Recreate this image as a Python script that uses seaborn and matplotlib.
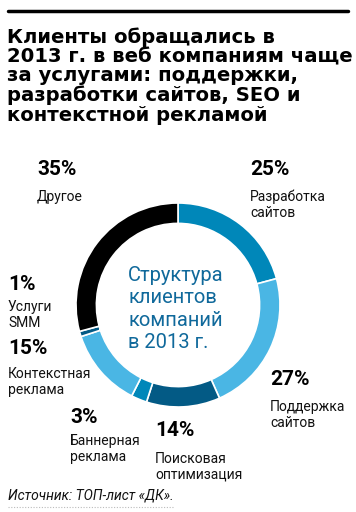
import matplotlib
matplotlib.use("Agg")
import matplotlib.pyplot as plt
import seaborn as sns
from matplotlib.lines import Line2D

sns.set_theme(style="white")
plt.rcParams['font.family'] = ['Roboto', 'DejaVu Sans']

# data
categories = ["Разработка\nсайтов", "Поддержка\nсайтов", "Поисковая\nоптимизация",
              "Баннерная\nреклама", "Контекстная\nреклама", "Услуги\nSMM", "Другое"]
values = [25, 27, 14, 3, 15, 1, 35]
pct_labels = ["25%", "27%", "14%", "3%", "15%", "1%", "35%"]
colors = ["#0087b9", "#4ab6e4", "#035a85", "#0087b9", "#4ab6e4", "#035a85", "#000000"]

title = "Клиенты обращались в\n2013 г. в веб компаниям чаще\nза услугами: поддержки,\nразработки сайтов, SEO и\nконтекстной рекламой"
center_text = "Структура\nклиентов\nкомпаний\nв 2013 г."
source = "Источник: ТОП-лист «ДК»."

W, H = 356, 512
fig = plt.figure(figsize=(W / 100, H / 100), dpi=100)

def fx(px):
    return px / W

def fy(py):
    return 1 - py / H

# donut
cx, cy, r = 178, 305, 102
ax = fig.add_axes([fx(cx - r), fy(cy + r), 2 * r / W, 2 * r / H])
ax.pie(values, colors=colors, startangle=90, counterclock=False, radius=1,
       wedgeprops=dict(width=0.2, edgecolor="white", linewidth=1.2))
ax.set_xlim(-1, 1)
ax.set_ylim(-1, 1)
ax.set_aspect("equal")
ax.axis("off")

# top rule
fig.add_artist(Line2D([fx(8), fx(348)], [fy(11), fy(11)], color="black", lw=2.5,
                      transform=fig.transFigure))

# title
fig.text(fx(7), fy(27), title, fontsize=14.1, fontweight="bold", va="top", ha="left",
         color="black", linespacing=1.03, family=["DejaVu Sans"])

# center text
fig.text(fx(128), fy(266), center_text, fontsize=14.5, color="#10699b", va="top",
         ha="left", linespacing=1.23)

# label positions (px, top of pct, top of label)
pos = [
    (250, 160, 190),  # 25
    (270, 370, 400),  # 27
    (155, 421, 452),  # 14
    (70, 408, 434),   # 3
    (8, 339, 367),    # 15
    (8, 275, 300),    # 1
    (37, 160, 190),   # 35
]
for (x, ypct, ylab), p, c in zip(pos, pct_labels, categories):
    fig.text(fx(x), fy(ypct), p, fontsize=15, fontweight="bold", va="top", ha="left",
             color="black")
    fig.text(fx(x), fy(ylab), c, fontsize=10, va="top", ha="left", color="#111111",
             linespacing=1.15)

# source
fig.text(fx(8), fy(488), source, fontsize=10, style="italic", va="top", ha="left",
         color="#111111")
fig.add_artist(Line2D([fx(8), fx(173)], [fy(507), fy(507)], color="#bbbbbb", lw=0.8,
                      linestyle=(0, (1, 1.5)), transform=fig.transFigure))

fig.savefig("out.png", dpi=100)
